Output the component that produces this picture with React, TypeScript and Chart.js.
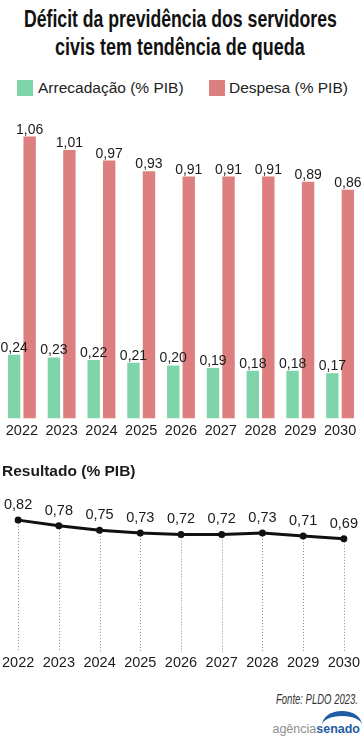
import React, { useEffect, useLayoutEffect, useRef } from 'react';
import { Chart, registerables } from 'chart.js';

Chart.register(...registerables);

const years = ['2022', '2023', '2024', '2025', '2026', '2027', '2028', '2029', '2030'];
const arrecadacao = [0.24, 0.23, 0.22, 0.21, 0.2, 0.19, 0.18, 0.18, 0.17];
const despesa = [1.06, 1.01, 0.97, 0.93, 0.91, 0.91, 0.91, 0.89, 0.86];
const resultado = [0.82, 0.78, 0.75, 0.73, 0.72, 0.72, 0.73, 0.71, 0.69];

const GREEN = '#7fd5a9';
const RED = '#dd7f7f';
const TEXT = '#1b1b1b';
const SANS = "'Liberation Sans', Arial, sans-serif";

const fmt = (v: number) => v.toFixed(2).replace('.', ',');

function FitText(props: { left: number; top: number; width: number; style: any; children: any }) {
  const ref = useRef<HTMLSpanElement>(null);
  useLayoutEffect(() => {
    const el = ref.current;
    if (!el) return;
    el.style.transform = 'none';
    const w = el.offsetWidth;
    if (w > 0) el.style.transform = `scaleX(${props.width / w})`;
  });
  return (
    <span
      ref={ref}
      style={{
        position: 'absolute', left: props.left, top: props.top, whiteSpace: 'nowrap',
        display: 'inline-block', transformOrigin: 'left center', ...props.style,
      }}
    >
      {props.children}
    </span>
  );
}

const barLabels = {
  id: 'barLabels',
  afterDatasetsDraw(chart: any) {
    const ctx = chart.ctx;
    ctx.save();
    ctx.font = `14px ${SANS}`;
    ctx.fillStyle = TEXT;
    ctx.textAlign = 'center';
    ctx.textBaseline = 'alphabetic';
    chart.data.datasets.forEach((ds: any, i: number) => {
      const meta = chart.getDatasetMeta(i);
      meta.data.forEach((el: any, j: number) => {
        ctx.fillText(fmt(ds.data[j]), el.x, el.y - 3);
      });
    });
    ctx.restore();
  },
};

const lineDecor = {
  id: 'lineDecor',
  beforeDatasetsDraw(chart: any) {
    const ctx = chart.ctx;
    const meta = chart.getDatasetMeta(0);
    const bottom = chart.chartArea.bottom;
    ctx.save();
    ctx.strokeStyle = '#8a8a8a';
    ctx.lineWidth = 1;
    ctx.setLineDash([1, 2]);
    meta.data.forEach((el: any) => {
      const x = Math.round(el.x) + 0.5;
      ctx.beginPath();
      ctx.moveTo(x, el.y);
      ctx.lineTo(x, bottom);
      ctx.stroke();
    });
    ctx.restore();
  },
  afterDatasetsDraw(chart: any) {
    const ctx = chart.ctx;
    const meta = chart.getDatasetMeta(0);
    const ds = chart.data.datasets[0];
    ctx.save();
    ctx.font = `14.5px ${SANS}`;
    ctx.fillStyle = TEXT;
    ctx.textAlign = 'center';
    ctx.textBaseline = 'alphabetic';
    meta.data.forEach((el: any, j: number) => {
      ctx.fillText(fmt(ds.data[j]), el.x, el.y - 11);
    });
    ctx.restore();
  },
};

export default function App() {
  const barRef = useRef<HTMLCanvasElement>(null);
  const lineRef = useRef<HTMLCanvasElement>(null);

  useEffect(() => {
    const bar = new Chart(barRef.current as HTMLCanvasElement, {
      type: 'bar',
      data: {
        labels: years,
        datasets: [
          { label: 'Arrecadação (% PIB)', data: arrecadacao, backgroundColor: GREEN, barPercentage: 0.8, categoryPercentage: 0.78 },
          { label: 'Despesa (% PIB)', data: despesa, backgroundColor: RED, barPercentage: 0.8, categoryPercentage: 0.78 },
        ],
      },
      options: {
        responsive: false,
        animation: false,
        layout: { padding: { top: 10, left: 2, right: 2, bottom: 1 } },
        plugins: { legend: { display: false }, title: { display: false }, tooltip: { enabled: false } },
        scales: {
          y: { display: false, min: 0, max: 1.16 },
          x: {
            grid: { display: false, drawTicks: false },
            border: { display: false },
            ticks: { color: TEXT, padding: 4, font: { family: SANS, size: 14.5 } },
          },
        },
      },
      plugins: [barLabels],
    });

    const line = new Chart(lineRef.current as HTMLCanvasElement, {
      type: 'line',
      data: {
        labels: years,
        datasets: [
          {
            label: 'Resultado (% PIB)',
            data: resultado,
            borderColor: '#111',
            backgroundColor: '#111',
            borderWidth: 3,
            pointRadius: 3.5,
            pointBackgroundColor: '#111',
            pointBorderWidth: 0,
            tension: 0,
          },
        ],
      },
      options: {
        responsive: false,
        animation: false,
        layout: { padding: { top: 0, left: 2, right: 2, bottom: 1.6 } },
        plugins: {
          legend: { display: false },
          tooltip: { enabled: false },
          title: {
            display: true,
            text: 'Resultado (% PIB)',
            align: 'start',
            color: TEXT,
            font: { family: SANS, size: 15.5, weight: 'bold' },
            padding: { top: 7, bottom: 19.4 },
          },
        },
        scales: {
          y: { display: false, min: -0.098, max: 0.96 },
          x: {
            grid: { display: false, drawTicks: false },
            border: { display: false },
            ticks: { color: TEXT, padding: 2, font: { family: SANS, size: 14.5 } },
          },
        },
      },
      plugins: [lineDecor],
    });

    return () => {
      bar.destroy();
      line.destroy();
    };
  }, []);

  const titleStyle = { fontFamily: SANS, fontWeight: 'bold', fontSize: 23, lineHeight: '28px', color: '#111' };

  return (
    <div style={{ position: 'absolute', left: 0, top: 0, width: 362, height: 737, background: '#fff', overflow: 'hidden' }}>
      <FitText left={24} top={5} width={313} style={titleStyle}>Déficit da previdência dos servidores</FitText>
      <FitText left={55} top={33} width={250} style={titleStyle}>civis tem tendência de queda</FitText>
      <div style={{ position: 'absolute', top: 80, left: 17, width: 16, height: 16, background: GREEN }} />
      <div style={{ position: 'absolute', top: 80, left: 38, fontFamily: SANS, fontSize: 15.5, lineHeight: '16px', color: '#222', whiteSpace: 'nowrap' }}>
        Arrecadação (% PIB)
      </div>
      <div style={{ position: 'absolute', top: 80, left: 209, width: 16, height: 16, background: RED }} />
      <div style={{ position: 'absolute', top: 80, left: 229, fontFamily: SANS, fontSize: 15.5, lineHeight: '16px', color: '#222', whiteSpace: 'nowrap' }}>
        Despesa (% PIB)
      </div>
      <canvas ref={barRef} width={362} height={345} style={{ position: 'absolute', top: 100, left: 0, width: 362, height: 345 }} />
      <canvas ref={lineRef} width={362} height={220} style={{ position: 'absolute', top: 455, left: 0, width: 362, height: 220 }} />
      <FitText
        left={276}
        top={691}
        width={82}
        style={{ fontFamily: SANS, fontStyle: 'italic', fontSize: 14.5, lineHeight: '16px', color: '#333' }}
      >
        Fonte: PLDO 2023.
      </FitText>
      <div
        style={{
          position: 'absolute', top: 711, left: 322, width: 40, height: 14,
          borderTop: '5px solid #1f5ca3', borderRadius: '50% 50% 0 0 / 100% 100% 0 0', boxSizing: 'border-box',
        }}
      />
      <div
        style={{
          position: 'absolute', top: 722, right: 2, fontFamily: SANS, fontSize: 12.5, lineHeight: '14px', whiteSpace: 'nowrap',
        }}
      >
        <span style={{ color: '#8e8e8e' }}>agência</span>
        <span style={{ color: '#1f5ca3', fontWeight: 'bold' }}>senado</span>
      </div>
    </div>
  );
}
